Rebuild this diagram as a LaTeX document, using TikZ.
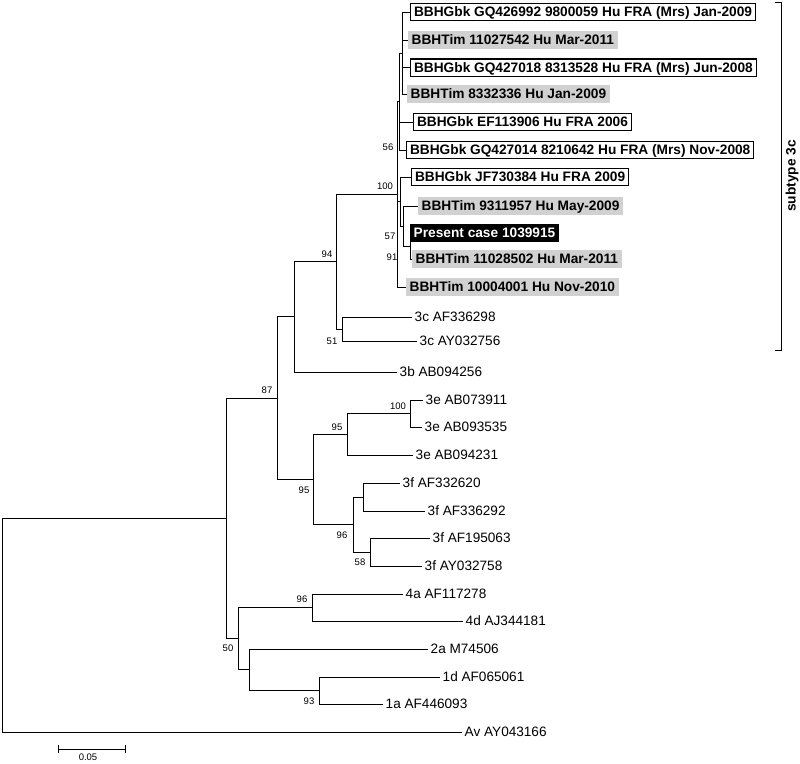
\documentclass[tikz,border=0pt]{standalone}
\usepackage{fontspec}
\setmainfont{Liberation Sans}
\usepackage{tikz}
\usetikzlibrary{shapes, arrows, positioning, calc}

\tikzset{
	branch/.style={line width=1pt},
	leaf/.style={anchor=west, inner xsep=2.5pt, inner ysep=0pt, text height=9.7pt, text depth=0pt, font=\fontsize{13.6}{15}\selectfont},
	tag/.style={anchor=west, inner xsep=3.5pt, inner ysep=1.2pt, text height=12.2pt, text depth=2.5pt, font=\fontsize{13.7}{15}\selectfont\bfseries},
	gbk/.style={tag, draw, line width=1.1pt, fill=white},
	tim/.style={tag, fill=black!18},
	present/.style={tag, fill=black, text=white},
	boot/.style={inner sep=0pt, font=\fontsize{9.5}{10}\selectfont},
}

\begin{document}
\begin{tikzpicture}[x=1pt, y=-1pt]
		\useasboundingbox (0,0) rectangle (800,763);

		% leaves
		\node[gbk] (GQ426992) at (410,12) {BBHGbk GQ426992 9800059 Hu FRA (Mrs) Jan-2009};
		\node[tim] (Tim11027542) at (408,40) {BBHTim 11027542 Hu Mar-2011};
		\node[gbk] (GQ427018) at (410,67.5) {BBHGbk GQ427018 8313528 Hu FRA (Mrs) Jun-2008};
		\node[tim] (Tim8332336) at (407,94) {BBHTim 8332336 Hu Jan-2009};
		\node[gbk] (EF113906) at (413,122) {BBHGbk EF113906 Hu FRA 2006};
		\node[gbk] (GQ427014) at (406,150) {BBHGbk GQ427014 8210642 Hu FRA (Mrs) Nov-2008};
		\node[gbk] (JF730384) at (411,177) {BBHGbk JF730384 Hu FRA 2009};
		\node[tim] (Tim9311957) at (418,206) {BBHTim 9311957 Hu May-2009};
		\node[present] (Present case) at (410,233) {Present case 1039915};
		\node[tim] (Tim11028502) at (412,259) {BBHTim 11028502 Hu Mar-2011};
		\node[tim] (Tim10004001) at (406,287) {BBHTim 10004001 Hu Nov-2010};
		\node[leaf] (AF336298) at (412,317) {3c AF336298};
		\node[leaf] (AY032756) at (417,341) {3c AY032756};
		\node[leaf] (AB094256) at (397,372) {3b AB094256};
		\node[leaf] (AB073911) at (423,400) {3e AB073911};
		\node[leaf] (AB093535) at (422,427) {3e AB093535};
		\node[leaf] (AB094231) at (413,455) {3e AB094231};
		\node[leaf] (AF332620) at (400,483) {3f AF332620};
		\node[leaf] (AF336292) at (425,511) {3f AF336292};
		\node[leaf] (AF195063) at (430,538) {3f AF195063};
		\node[leaf] (AY032758) at (422,566) {3f AY032758};
		\node[leaf] (AF117278) at (403,594) {4a AF117278};
		\node[leaf] (AJ344181) at (463,621) {4d AJ344181};
		\node[leaf] (M74506) at (428,649) {2a M74506};
		\node[leaf] (AF065061) at (440,677) {1d AF065061};
		\node[leaf] (AF446093) at (383,704) {1a AF446093};
		\node[leaf] (AY043166) at (462,732) {Av AY043166};

		% inner nodes
		\coordinate (nC) at (402,53);
		\coordinate (n56) at (399,101.5);
		\coordinate (n91) at (410,246);
		\coordinate (n57) at (403,226);
		\coordinate (nX) at (400,201.5);
		\coordinate (n100) at (397,194.25);
		\coordinate (n51) at (342,329);
		\coordinate (n94) at (336,261.6);
		\coordinate (n3b) at (294,316.8);
		\coordinate (n87) at (277,398);
		\coordinate (n95) at (313,479.5);
		\coordinate (n95e) at (347,434.5);
		\coordinate (n100e) at (410,413.5);
		\coordinate (n96f) at (353,524.5);
		\coordinate (nf1) at (363,497);
		\coordinate (n58) at (370,552);
		\coordinate (nI) at (226,518.3);
		\coordinate (n50) at (238,638.6);
		\coordinate (n96a) at (312,607.5);
		\coordinate (nK) at (249,669.75);
		\coordinate (n93) at (319,690.5);
		\coordinate (root) at (2,625);

		% branches
		\draw[branch] (nC) |- (GQ426992.west);
		\draw[branch] (nC) |- (Tim11027542.west);
		\draw[branch] (nC) |- (GQ427018.west);
		\draw[branch] (nC) |- (Tim8332336.west);
		\draw[branch] (n56) |- (nC);
		\draw[branch] (n56) |- (EF113906.west);
		\draw[branch] (n56) |- (GQ427014.west);
		\draw[branch] (n91) |- (Present case.west);
		\draw[branch] (n91) |- (Tim11028502.west);
		\draw[branch] (n57) |- (Tim9311957.west);
		\draw[branch] (n57) |- (n91);
		\draw[branch] (nX) |- (JF730384.west);
		\draw[branch] (nX) |- (n57);
		\draw[branch] (n100) |- (n56);
		\draw[branch] (n100) |- (nX);
		\draw[branch] (n100) |- (Tim10004001.west);
		\draw[branch] (n51) |- (AF336298.west);
		\draw[branch] (n51) |- (AY032756.west);
		\draw[branch] (n94) |- (n100);
		\draw[branch] (n94) |- (n51);
		\draw[branch] (n3b) |- (n94);
		\draw[branch] (n3b) |- (AB094256.west);
		\draw[branch] (n100e) |- (AB073911.west);
		\draw[branch] (n100e) |- (AB093535.west);
		\draw[branch] (n95e) |- (n100e);
		\draw[branch] (n95e) |- (AB094231.west);
		\draw[branch] (nf1) |- (AF332620.west);
		\draw[branch] (nf1) |- (AF336292.west);
		\draw[branch] (n58) |- (AF195063.west);
		\draw[branch] (n58) |- (AY032758.west);
		\draw[branch] (n96f) |- (nf1);
		\draw[branch] (n96f) |- (n58);
		\draw[branch] (n95) |- (n95e);
		\draw[branch] (n95) |- (n96f);
		\draw[branch] (n87) |- (n3b);
		\draw[branch] (n87) |- (n95);
		\draw[branch] (n96a) |- (AF117278.west);
		\draw[branch] (n96a) |- (AJ344181.west);
		\draw[branch] (n93) |- (AF065061.west);
		\draw[branch] (n93) |- (AF446093.west);
		\draw[branch] (nK) |- (M74506.west);
		\draw[branch] (nK) |- (n93);
		\draw[branch] (n50) |- (n96a);
		\draw[branch] (n50) |- (nK);
		\draw[branch] (nI) |- (n87);
		\draw[branch] (nI) |- (n50);
		\draw[branch] (root) |- (nI);
		\draw[branch] (root) |- (AY043166.west);

		% bootstrap values
		\node[boot] (bs56) at (388,147) {56};
		\node[boot] (bs100) at (385,186) {100};
		\node[boot] (bs57) at (390,236) {57};
		\node[boot] (bs91) at (392,257) {91};
		\node[boot] (bs94) at (327,254) {94};
		\node[boot] (bs51) at (332,341) {51};
		\node[boot] (bs87) at (267,390) {87};
		\node[boot] (bs100e) at (398,406) {100};
		\node[boot] (bs95e) at (337,427) {95};
		\node[boot] (bs95) at (304,490) {95};
		\node[boot] (bs96f) at (342,535) {96};
		\node[boot] (bs58) at (360,562) {58};
		\node[boot] (bs96a) at (302,599) {96};
		\node[boot] (bs50) at (228,648) {50};
		\node[boot] (bs93) at (309,701) {93};

		% scale bar
		\coordinate (bar left) at (58,749);
		\coordinate (bar right) at (125,749);
		\draw[line width=1pt] (bar left) -- (bar right);
		\draw[line width=1pt] ([yshift=4pt]bar left) -- ([yshift=-4pt]bar left);
		\draw[line width=1pt] ([yshift=4pt]bar right) -- ([yshift=-4pt]bar right);
		\node[boot] (scale) at (88,757.5) {0.05};

		% subtype bracket
		\coordinate (brace top) at (781,2);
		\coordinate (brace bottom) at (781,350);
		\draw[branch] ([xshift=-6pt]brace top) -- (brace top) -- (brace bottom) -- ([xshift=-6pt]brace bottom);
		\node[rotate=90, font=\fontsize{13.7}{15}\selectfont\bfseries] (subtype) at (792,176) {subtype 3c};
	\end{tikzpicture}
\end{document}
